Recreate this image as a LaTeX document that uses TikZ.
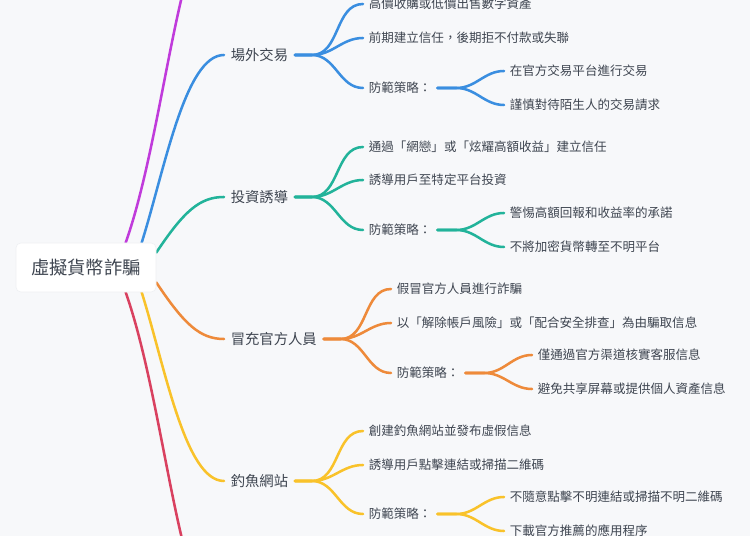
\documentclass[tikz,border=0pt]{standalone}
\usepackage{fontspec}
\usepackage{tikz}
\usetikzlibrary{backgrounds}
\newfontfamily\cjk{Noto Sans CJK TC}
\definecolor{mmPaper}{HTML}{F7F8FA}
\definecolor{mmEdge}{HTML}{EEF0F3}
\definecolor{mmInk}{HTML}{3E4550}
\definecolor{mmPurple}{HTML}{C03BDB}
\definecolor{mmBlue}{HTML}{3A8EE0}
\definecolor{mmTeal}{HTML}{22B39A}
\definecolor{mmOrange}{HTML}{EE8A3A}
\definecolor{mmYellow}{HTML}{F9C22A}
\definecolor{mmRed}{HTML}{D94160}

\begin{document}
\begin{tikzpicture}[x=0.025cm, y=-0.025cm, font=\cjk, text=mmInk,
  root/.style={fill=white, draw=mmEdge, line width=0.4pt, rounded corners=3.5pt,
    minimum width=3.5cm, minimum height=1.225cm, inner sep=0pt, font=\cjk\fontsize{13}{15}\selectfont},
  topic/.style={anchor=west, inner xsep=4.6pt, font=\cjk\fontsize{10.2}{12}\selectfont},
  leaf/.style={anchor=west, inner xsep=4pt, font=\cjk\fontsize{8.9}{11}\selectfont},
  link/.style={line width=1.8pt, line cap=round}]
  \useasboundingbox (0,0) rectangle (750,536);
  \clip (0,0) rectangle (750,536);
  \node[root] (root) at (86,267.5) {虛擬貨幣詐騙};
  \coordinate (b0) at (224,-87);
  \coordinate (b5) at (224,622);
  \node[topic] (b1) at (224,55)  {場外交易};
  \node[topic] (b2) at (224,197) {投資誘導};
  \node[topic] (b3) at (224,339) {冒充官方人員};
  \node[topic] (b4) at (224,481) {釣魚網站};
  \node[leaf] (b1a)  at (363,4)   {高價收購或低價出售數字資產};
  \node[leaf] (b1b)  at (363,38)  {前期建立信任，後期拒不付款或失聯};
  \node[leaf] (b1c)  at (363,88)  {防範策略：};
  \node[leaf] (b1c1) at (504,71)  {在官方交易平台進行交易};
  \node[leaf] (b1c2) at (504,105) {謹慎對待陌生人的交易請求};
  \node[leaf] (b2a)  at (363,147) {通過「網戀」或「炫耀高額收益」建立信任};
  \node[leaf] (b2b)  at (363,180) {誘導用戶至特定平台投資};
  \node[leaf] (b2c)  at (363,230) {防範策略：};
  \node[leaf] (b2c1) at (504,213) {警惕高額回報和收益率的承諾};
  \node[leaf] (b2c2) at (504,247) {不將加密貨幣轉至不明平台};
  \node[leaf] (b3a)  at (391,289) {假冒官方人員進行詐騙};
  \node[leaf] (b3b)  at (391,323) {以「解除帳戶風險」或「配合安全排查」為由騙取信息};
  \node[leaf] (b3c)  at (391,373) {防範策略：};
  \node[leaf] (b3c1) at (532,355) {僅通過官方渠道核實客服信息};
  \node[leaf] (b3c2) at (532,389) {避免共享屏幕或提供個人資產信息};
  \node[leaf] (b4a)  at (363,431) {創建釣魚網站並發布虛假信息};
  \node[leaf] (b4b)  at (363,465) {誘導用戶點擊連結或掃描二維碼};
  \node[leaf] (b4c)  at (363,514) {防範策略：};
  \node[leaf] (b4c1) at (504,497) {不隨意點擊不明連結或掃描不明二維碼};
  \node[leaf] (b4c2) at (504,531) {下載官方推薦的應用程序};
  \begin{scope}[on background layer]
    \fill[mmPaper] (0,0) rectangle (750,536);
    \draw[link, mmPurple] (root.32) .. controls +(40,-113) and +(-44,0) .. (b0);
    \draw[link, mmBlue] (root.24) .. controls +(23,-73) and +(-39,0) .. (b1.west);
    \draw[link, mmTeal] (root.12) .. controls +(28,-42) and +(-24,0) .. (b2.west);
    \draw[link, mmOrange] (root.-12) .. controls +(28,42) and +(-24,0) .. (b3.west);
    \draw[link, mmYellow] (root.-24) .. controls +(23,73) and +(-39,0) .. (b4.west);
    \draw[link, mmRed] (root.-32) .. controls +(40,113) and +(-44,0) .. (b5);
    \foreach \c in {b1a,b1b,b1c} \draw[link, mmBlue] (b1.east) -- ++(17,0) to[out=0,in=180] (\c.west);
    \foreach \c in {b1c1,b1c2} \draw[link, mmBlue] (b1c.east) -- ++(19,0) to[out=0,in=180] (\c.west);
    \foreach \c in {b2a,b2b,b2c} \draw[link, mmTeal] (b2.east) -- ++(17,0) to[out=0,in=180] (\c.west);
    \foreach \c in {b2c1,b2c2} \draw[link, mmTeal] (b2c.east) -- ++(19,0) to[out=0,in=180] (\c.west);
    \foreach \c in {b3a,b3b,b3c} \draw[link, mmOrange] (b3.east) -- ++(17,0) to[out=0,in=180] (\c.west);
    \foreach \c in {b3c1,b3c2} \draw[link, mmOrange] (b3c.east) -- ++(19,0) to[out=0,in=180] (\c.west);
    \foreach \c in {b4a,b4b,b4c} \draw[link, mmYellow] (b4.east) -- ++(17,0) to[out=0,in=180] (\c.west);
    \foreach \c in {b4c1,b4c2} \draw[link, mmYellow] (b4c.east) -- ++(19,0) to[out=0,in=180] (\c.west);
  \end{scope}
\end{tikzpicture}
\end{document}
